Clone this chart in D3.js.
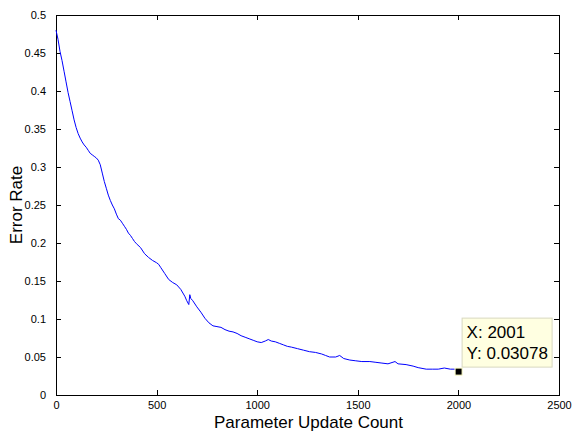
<!DOCTYPE html>
<html>
<head>
<meta charset="utf-8">
<script src="https://cdn.jsdelivr.net/npm/d3@7"></script>
<style>
  html, body { margin: 0; padding: 0; background: #fff; }
  text { font-family: Arial, "Liberation Sans", Helvetica, sans-serif; }
</style>
</head>
<body>
<svg id="chart" width="572" height="432"></svg>
<script>
// update count values and matching error rates
const updates = [0, 10, 20, 30, 40, 50, 60, 70, 80, 90, 100, 110, 120, 130, 140, 150, 160, 170, 180, 190,
    200, 210, 220, 230, 240, 250, 260, 270, 280, 290, 300, 310, 320, 330, 340, 350, 360, 370, 380, 390,
    400, 420, 440, 460, 480, 500, 510, 520, 540, 560, 580, 600, 620, 640, 650, 660, 665, 670, 680, 700,
    720, 740, 760, 780, 800, 820, 840, 860, 880, 900, 920, 940, 960, 980, 1000, 1020, 1040, 1055, 1070, 1090,
    1110, 1130, 1150, 1170, 1200, 1230, 1260, 1290, 1320, 1340, 1360, 1390, 1410, 1430, 1460, 1490, 1520, 1560, 1590, 1620,
    1650, 1685, 1700, 1740, 1775, 1800, 1840, 1870, 1900, 1930, 1960, 1980, 2001];
const errorRate = [0.480, 0.468, 0.452, 0.440, 0.426, 0.412, 0.398, 0.386, 0.374, 0.362, 0.352, 0.344, 0.338, 0.333, 0.329, 0.326, 0.322, 0.318, 0.316, 0.314,
    0.312, 0.309, 0.303, 0.292, 0.281, 0.272, 0.263, 0.256, 0.250, 0.245, 0.238, 0.232, 0.230, 0.226, 0.222, 0.218, 0.213, 0.210, 0.206, 0.202,
    0.199, 0.194, 0.186, 0.181, 0.177, 0.174, 0.172, 0.168, 0.160, 0.152, 0.148, 0.145, 0.139, 0.130, 0.124, 0.119, 0.132, 0.127, 0.124, 0.116,
    0.109, 0.101, 0.095, 0.091, 0.090, 0.089, 0.086, 0.084, 0.083, 0.081, 0.078, 0.076, 0.074, 0.072, 0.070, 0.069, 0.071, 0.073, 0.071, 0.070,
    0.068, 0.066, 0.064, 0.063, 0.061, 0.059, 0.057, 0.056, 0.054, 0.052, 0.050, 0.050, 0.052, 0.048, 0.046, 0.045, 0.044, 0.044, 0.043, 0.042,
    0.041, 0.044, 0.041, 0.040, 0.038, 0.036, 0.034, 0.034, 0.034, 0.0355, 0.034, 0.034, 0.03078];

const xTicks = [0, 500, 1000, 1500, 2000, 2500];
const yTicks = [0, 0.05, 0.1, 0.15, 0.2, 0.25, 0.3, 0.35, 0.4, 0.45, 0.5];
const tipPoint = { x: 2001, y: 0.03078 };

const svg = d3.select("#chart");
const margin = { top: 15, right: 13, bottom: 37, left: 56 };
const width = 572 - margin.left - margin.right;
const height = 432 - margin.top - margin.bottom;

const g = svg.append("g").attr("transform", `translate(${margin.left},${margin.top})`);

const x = d3.scaleLinear().domain([0, 2500]).range([0, width]);
const y = d3.scaleLinear().domain([0, 0.5]).range([height, 0]);

// frame
g.append("rect")
    .attr("x", 0).attr("y", 0)
    .attr("width", width).attr("height", height)
    .attr("fill", "#fff")
    .attr("stroke", "#000")
    .attr("shape-rendering", "crispEdges");

// ticks on all four sides, pointing inward
const tickLen = 5;
function styleAxis(sel) {
    sel.select(".domain").remove();
    sel.selectAll(".tick line").attr("stroke", "#000").attr("shape-rendering", "crispEdges");
    sel.selectAll(".tick text").attr("fill", "#000").style("font-size", "11px");
}

g.append("g")
    .attr("transform", `translate(0,${height})`)
    .call(d3.axisBottom(x).tickValues(xTicks).tickFormat(d3.format("d"))
        .tickSizeInner(-tickLen).tickPadding(6))
    .call(styleAxis);

g.append("g")
    .call(d3.axisTop(x).tickValues(xTicks).tickFormat("").tickSizeInner(-tickLen))
    .call(styleAxis);

g.append("g")
    .call(d3.axisLeft(y).tickValues(yTicks).tickFormat(d => d3.format("")(+d.toFixed(2)))
        .tickSizeInner(-tickLen).tickPadding(tickLen + 5))
    .call(styleAxis);

g.append("g")
    .attr("transform", `translate(${width},0)`)
    .call(d3.axisRight(y).tickValues(yTicks).tickFormat("").tickSizeInner(-tickLen))
    .call(styleAxis);

// curve
const data = updates.map((u, i) => ({ x: u, y: errorRate[i] }));
const line = d3.line().x(d => x(d.x)).y(d => y(d.y));

g.append("path")
    .datum(data)
    .attr("fill", "none")
    .attr("stroke", "#0000ff")
    .attr("stroke-width", 1)
    .attr("d", line);

// axis labels
svg.append("text")
    .attr("x", margin.left + width / 2 + 1)
    .attr("y", 428)
    .attr("text-anchor", "middle")
    .style("font-size", "17px")
    .text("Parameter Update Count");

svg.append("text")
    .attr("transform", `translate(22,${margin.top + height / 2}) rotate(-90)`)
    .attr("text-anchor", "middle")
    .style("font-size", "17px")
    .text("Error Rate");

// data tip
const px = x(tipPoint.x), py = y(tipPoint.y);
g.append("rect")
    .attr("x", px - 3.5).attr("y", py - 3.5)
    .attr("width", 7).attr("height", 7)
    .attr("fill", "#000")
    .attr("stroke", "#ffffc8")
    .attr("stroke-width", 1);

const tip = g.append("g").attr("transform", `translate(${px + 3},${py - 54})`);
tip.append("rect")
    .attr("x", 0.5).attr("y", 0.5)
    .attr("width", 90).attr("height", 49)
    .attr("fill", "#ffffe1")
    .attr("stroke", "#d8d8c0");
tip.append("text")
    .attr("x", 5).attr("y", 20)
    .style("font-size", "17px")
    .text("X: " + tipPoint.x);
tip.append("text")
    .attr("x", 5).attr("y", 41)
    .style("font-size", "17px")
    .text("Y: " + tipPoint.y);
</script>
</body>
</html>
